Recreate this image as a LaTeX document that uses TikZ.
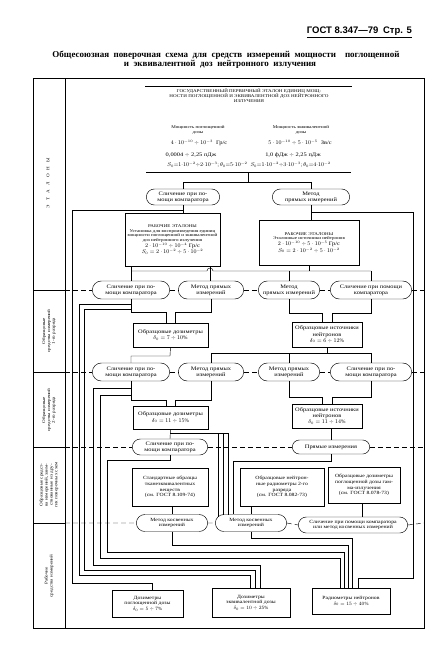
\documentclass[tikz,border=0pt]{standalone}
\usepackage{fontspec}
\setmainfont{Liberation Serif}
\newfontfamily\nf[FakeStretch=1.2]{Liberation Serif}
\newfontfamily\hf{Liberation Sans}
\usetikzlibrary{shapes.misc}
\newcommand{\fa}{\nf\fontsize{7.6pt}{8.8pt}\selectfont}
\newcommand{\fb}{\nf\fontsize{6pt}{7pt}\selectfont}
\newcommand{\fc}{\nf\fontsize{6.8pt}{8pt}\selectfont}
\newcommand{\fd}{\nf\fontsize{7.6pt}{8pt}\selectfont}
\tikzset{
  sz/.style 2 args={minimum width=#1*0.5mm, minimum height=#2*0.5mm},
  box/.style={draw, line width=0.65pt, rectangle, align=center, inner sep=0.5pt, font=\fa},
  meth/.style={draw, line width=0.65pt, rounded rectangle, align=center, inner sep=0.5pt, font=\fa},
  ln/.style={line width=0.6pt},
  dl/.style={line width=0.65pt, dash pattern=on 2.4mm off 1.6mm},
  txt/.style={inner sep=0pt, align=center, font=\fa},
  side/.style={rotate=90, inner sep=0pt, align=center, font=\fb},
}
\begin{document}
\begin{tikzpicture}[x=0.5mm,y=-0.5mm]
\useasboundingbox (0,0) rectangle (435,669);
% header
\node[anchor=base east, inner sep=0pt, font=\hf\bfseries\fontsize{13.5pt}{14pt}\selectfont] (hdr) at (412,33) {ГОСТ 8.347—79\enspace Стр. 5};
\draw[line width=0.9pt] ([yshift=-1.2mm]hdr.south west) -- ([yshift=-1.2mm]hdr.south east);
\node[anchor=base, inner sep=0pt, font=\bfseries\fontsize{12.8pt}{14pt}\selectfont] (ttl1) at (226,57) {Общесоюзная\ \ поверочная\ \ схема\ \ для\ \ средств\ \ измерений\ \ мощности\ \ \ \ поглощенной};
\node[anchor=base, inner sep=0pt, font=\bfseries\fontsize{12.8pt}{14pt}\selectfont] (ttl2) at (220,66) {и\ \ эквивалентной\ \ доз\ \ нейтронного\ \ излучения};
% frame
\draw[line width=0.9pt] (33,78) rectangle (424,628);
\draw[line width=0.9pt] (65,78) -- (65,628);
\foreach \yy in {290,372,447,523} \draw[line width=0.7pt] (33,\yy) -- (65,\yy);
\node[side] (c0) at (48,183) {Э\quad Т\quad А\quad Л\quad О\quad Н\quad Ы};
\node[side] (c1) at (49,331) {Образцовые\\средства измерений\\1-го разряда};
\node[side] (c2) at (49,410) {Образцовые\\средства измерений\\2-го разряда};
\node[side] (c3) at (49,485) {Образцовые средст-\\ва измерений, заим-\\ствованные из дру-\\гих поверочных схем};
\node[side] (c4) at (49,576) {Рабочие\\средства измерений};
% primary standard
\node[draw, line width=0.65pt, double, double distance=1.1pt, sz={206}{86}] (P) at (248.5,130) {};
\node[txt, font=\fb] (Pt) at (249,96) {ГОСУДАРСТВЕННЫЙ ПЕРВИЧНЫЙ ЭТАЛОН ЕДИНИЦ МОЩ-\\НОСТИ ПОГЛОЩЕННОЙ И ЭКВИВАЛЕНТНОЙ ДОЗ НЕЙТРОННОГО\\ИЗЛУЧЕНИЯ};
\node[txt, font=\fb] (Pa) at (198,130) {Мощность поглощенной\\дозы};
\node[txt, font=\fb] (Pb) at (301,130) {Мощность эквивалентной\\дозы};
\node[txt, font=\fd] (Pc) at (199,143) {$4\cdot10^{-10}\div10^{-3}$\ \ Гр/с};
\node[txt, font=\fd] (Pd) at (300,143) {$5\cdot10^{-10}\div5\cdot10^{-5}$\ \ Зв/с};
\node[txt, font=\fd] (Pe) at (191,155) {0,0004 $\div$ 2,25 пДж};
\node[txt, font=\fd] (Pf) at (293,155) {1,0 фДж $\div$ 2,25 пДж};
\node[txt, font=\fd] (Pg) at (249,165) {$S_0{=}1{\cdot}10^{-2}{\div}2{\cdot}10^{-3};\theta_0{=}5{\cdot}10^{-2}$\ \ $S_0{=}1{\cdot}10^{-2}{\div}3{\cdot}10^{-3};\theta_0{=}4{\cdot}10^{-2}$};
% level 0 methods and working standards
\node[meth, sz={74}{16}] (M0L) at (183,197) {Сличение при по-\\мощи компаратора};
\node[meth, sz={78}{16}] (M0R) at (311,197) {Метод\\прямых измерений};
\node[box, font=\fb, sz={95}{53}] (WL) at (172.5,239.5) {РАБОЧИЕ ЭТАЛОНЫ\\Установка для воспроизведения единиц\\мощности поглощенной и эквивалентной\\доз нейтронного излучения\\{\fd$2\cdot10^{-10}\div10^{-4}$ Гр/с}\\{\fd$S_0 = 2\cdot10^{-2}\div5\cdot10^{-2}$}};
\node[box, font=\fb, sz={100}{45}] (WR) at (309,242.5) {РАБОЧИЕ ЭТАЛОНЫ\\Эталонные источники нейтронов\\{\fd$2\cdot10^{-10}\div5\cdot10^{-5}$ Гр/с}\\{\fd$S_0 = 2\cdot10^{-2}\div5\cdot10^{-2}$}};
% row 1
\node[meth, sz={78}{18}] (N1) at (131,290) {Сличение при по-\\мощи компаратора};
\node[meth, sz={66}{18}] (N2) at (211,290) {Метод прямых\\измерений};
\node[meth, sz={62}{18}] (N3) at (289,290) {Метод\\прямых измерений};
\node[meth, sz={82}{18}] (N4) at (371,290) {Сличение при помощи\\компаратора};
\node[box, sz={75}{24}] (D1) at (170.5,335) {Образцовые дозиметры\\$\delta_0 = 7\div10\%$};
\node[box, sz={70}{25}] (S1) at (327,334.5) {Образцовые источники\\нейтронов\\$\delta_0 = 6\div12\%$};
% row 2
\node[meth, sz={78}{18}] (N5) at (131,372) {Сличение при по-\\мощи компаратора};
\node[meth, sz={66}{18}] (N6) at (211,372) {Метод прямых\\измерений};
\node[meth, sz={62}{18}] (N7) at (289,372) {Метод прямых\\измерений};
\node[meth, sz={82}{18}] (N8) at (371,372) {Сличение при по-\\мощи компаратора};
\node[box, sz={75}{23}] (D2) at (170.5,417.5) {Образцовые дозиметры\\$\delta_0 = 11\div15\%$};
\node[box, sz={70}{24}] (S2) at (327,416) {Образцовые источники\\нейтронов\\$\delta_0 = 11\div14\%$};
% row 3
\node[meth, sz={76}{16}] (N9) at (170,447) {Сличение при по-\\мощи компаратора};
\node[meth, sz={78}{14}] (N10) at (331,447) {Прямые измерения};
\node[box, font=\fc, sz={76}{38}] (B1) at (170,487) {Стандартные образцы\\тканеэквивалентных\\веществ\\(см. ГОСТ 8.109-74)};
\node[box, font=\fc, sz={84}{38}] (B2) at (282,487) {Образцовые нейтрон-\\ные радиометры 2-го\\разряда\\(см. ГОСТ 8.082-73)};
\node[box, font=\fc, sz={72}{36}] (B3) at (364,485) {Образцовые дозиметры\\поглощенной дозы гам-\\ма-излучения\\(см. ГОСТ 8.078-73)};
% row 4
\node[meth, font=\fc, sz={72}{17}] (N11) at (172,523) {Метод косвенных\\измерений};
\node[meth, font=\fc, sz={72}{17}] (N12) at (251,523) {Метод косвенных\\измерений};
\node[meth, font=\fc, sz={110}{16}] (N13) at (353,525) {Сличение при помощи компаратора\\или метод косвенных измерений};
% working instruments
\node[box, font=\fc, sz={71}{27}] (W1) at (147.5,603.5) {Дозиметры\\поглощенной дозы\\$\delta_0 = 5\div7\%$};
\node[box, font=\fc, sz={78}{29}] (W2) at (251,602.5) {Дозиметры\\эквивалентной дозы\\$\delta_0 = 10\div25\%$};
\node[box, font=\fc, sz={78}{26}] (W3) at (351,601) {Радиометры нейтронов\\$\delta_0 = 15\div40\%$};
% dashed rows
\draw[dl] (65,290) -- (N1.west) (N1.east) -- (N2.west) (N2.east) -- (N3.west) (N3.east) -- (N4.west) (N4.east) -- (424,290);
\draw[dl] (65,372) -- (N5.west) (N5.east) -- (N6.west) (N6.east) -- (N7.west) (N7.east) -- (N8.west) (N8.east) -- (424,372);
\draw[dl] (65,447) -- (N9.west) (N9.east) -- (N10.west) (N10.east) -- (424,447);
\draw[dl] (65,523) -- (N11.west) (N11.east) -- (N12.west) (N12.east) -- (N13.west) (N13.east) -- (424,523);
% connectors
\draw[ln] (P.south) -- (248.5,182) (183,182) -- (311,182);
\draw[ln] (183,182) -- (M0L.north) (311,182) -- (M0R.north);
\draw[ln] (M0L.south) -- (WL.north -| M0L.south);
\draw[ln] (M0R.south) -- (WR.north -| M0R.south);
\draw[ln] (183,210) -- (72,210) -- (72,583) -- (152,583) -- (W1.north -| 152,0);
\draw[ln] (311,212) -- (413,212) -- (413,578) -- (358,578) -- (W3.north -| 358,0);
\draw[ln] (WL.south -| 131,0) -- (N1.north);
\draw[ln] (WL.south -| 210,0) -- (N2.north -| 210,0);
\draw[ln] (WR.south -| 309,0) -- (309,271);
\draw[ln] (131,271) -- (207,271) arc[start angle=180, end angle=0, radius=1.5mm] -- (371,271);
\draw[ln] (289,271) -- (N3.north) (371,271) -- (N4.north);
\draw[ln] (N1.south) -- (131,312) -- (166,312) -- (D1.north -| 166,0);
\draw[ln] (N2.south) -- (211,312) -- (175,312) -- (D1.north -| 175,0);
\draw[ln] (N3.south) -- (289,313) -- (322,313) -- (S1.north -| 322,0);
\draw[ln] (N4.south) -- (371,313) -- (332,313) -- (S1.north -| 332,0);
\draw[ln] (131,304) -- (79,304) -- (79,575) -- (250,575) -- (W2.north -| 250,0);
\draw[ln] (131,309) -- (84,309) -- (84,570) -- (255,570) -- (W2.north -| 255,0);
\draw[ln] (D1.south) -- (170,356) -- (131,356) -- (N5.north);
\draw[ln] (S1.south) -- (327,353) (211,353) -- (371,353);
\draw[ln] (211,353) -- (N6.north) (289,353) -- (N7.north) (371,353) -- (N8.north);
\draw[ln] (N5.south) -- (131,400) -- (166,400) -- (D2.north -| 166,0);
\draw[ln] (N6.south) -- (211,400) -- (175,400) -- (D2.north -| 175,0);
\draw[ln] (N7.south) -- (289,397) -- (322,397) -- (S2.north -| 322,0);
\draw[ln] (N8.south) -- (371,397) -- (332,397) -- (S2.north -| 332,0);
\draw[ln] (131,388) -- (93,388) -- (93,565) -- (260,565) -- (W2.north -| 260,0);
\draw[ln] (131,395) -- (100,395) -- (100,558) -- (340,558) -- (W3.north -| 340,0);
\draw[ln] (D2.south) -- (N9.north);
\draw[ln] (170,433) -- (228,433);
\draw[ln] (218,433) -- (218,516.5) (223,433) -- (223,514.6) (228,433) -- (228,514.6);
\draw[ln] (S2.south -| 331,0) -- (N10.north);
\draw[ln] (N10.south) -- (331,461) -- (233,461) -- (N12.north -| 233,0);
\draw[ln] (N9.south) -- (170,460) -- (107,460) -- (107,552) -- (344,552) -- (W3.north -| 344,0);
\draw[ln] (B1.south -| 172,0) -- (N11.north);
\draw[ln] (B2.south -| 251,0) -- (N12.north);
\draw[ln] (B3.south -| 362,0) -- (N13.north -| 362,0);
\draw[ln] (N11.south) -- (172,545) -- (348,545) -- (W3.north -| 348,0);
\draw[ln] (N12.south) -- (251,538) -- (352,538) -- (W3.north -| 352,0);
\end{tikzpicture}
\end{document}
